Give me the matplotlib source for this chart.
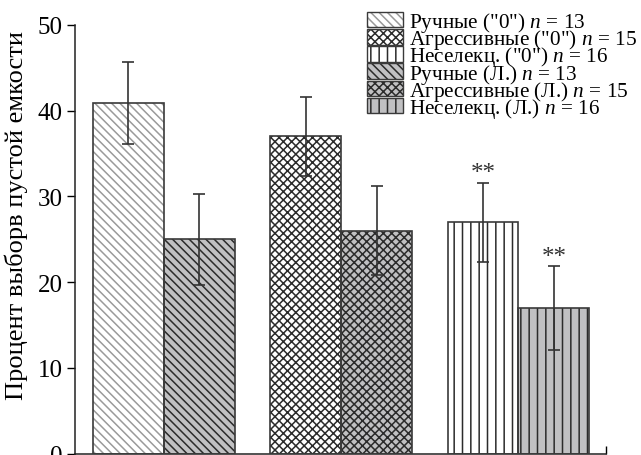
import numpy as np
import matplotlib
matplotlib.use('Agg')
import matplotlib.pyplot as plt
from matplotlib.patches import Patch
from matplotlib.legend_handler import HandlerTuple

plt.rcParams['font.family'] = ['Liberation Serif', 'DejaVu Serif']
plt.rcParams['mathtext.fontset'] = 'custom'
plt.rcParams['mathtext.it'] = 'Liberation Serif:italic'
plt.rcParams['mathtext.rm'] = 'Liberation Serif'
plt.rcParams['hatch.linewidth'] = 1.1

# данные
labels = ['Ручные ("0") $n$ = 13', 'Агрессивные ("0") $n$ = 15', 'Неселекц. ("0") $n$ = 16',
          'Ручные (Л.) $n$ = 13', 'Агрессивные (Л.) $n$ = 15', 'Неселекц. (Л.) $n$ = 16']
vals_0 = [40.9, 37.0, 27.0]
err_0 = [4.8, 4.6, 4.6]
vals_l = [25.0, 26.0, 17.0]
err_l = [5.3, 5.2, 4.9]
stars_0 = ['', '', '**']
stars_l = ['', '', '**']

hatches = ['\\\\\\\\', 'xxxx', '||']
hatch_col_0 = ['#9a9a9a', '#2b2b2b', '#2b2b2b']
gray = '#c0c0c2'
edge = '#3a3a3a'

fig = plt.figure(figsize=(6.41, 4.56), dpi=100)
ax = fig.add_axes([0.117, 0.003, 0.828, 0.940])

x = np.arange(3) * 2.5
w = 1.0
handles_0 = []
handles_l = []
for i in range(3):
    # "0" bars (white)
    ax.bar(x[i] - w / 2, vals_0[i], w, color='white', hatch=hatches[i],
           edgecolor=hatch_col_0[i], linewidth=0, zorder=2)
    ax.bar(x[i] - w / 2, vals_0[i], w, fill=False, edgecolor=edge, linewidth=1.2, zorder=3)
    ax.errorbar(x[i] - w / 2, vals_0[i], yerr=err_0[i], fmt='none', ecolor='#333333',
                elinewidth=1.2, capsize=4, capthick=1.2, zorder=4)
    # Л. bars (gray)
    ax.bar(x[i] + w / 2, vals_l[i], w, color=gray, hatch=hatches[i],
           edgecolor='#2b2b2b', linewidth=0, zorder=2)
    ax.bar(x[i] + w / 2, vals_l[i], w, fill=False, edgecolor=edge, linewidth=1.2, zorder=3)
    ax.errorbar(x[i] + w / 2, vals_l[i], yerr=err_l[i], fmt='none', ecolor='#333333',
                elinewidth=1.2, capsize=4, capthick=1.2, zorder=4)
    if stars_0[i]:
        ax.text(x[i] - w / 2, vals_0[i] + err_0[i] - 0.2, stars_0[i], ha='center',
                va='bottom', fontsize=18, color='#333333')
    if stars_l[i]:
        ax.text(x[i] + w / 2, vals_l[i] + err_l[i] - 0.2, stars_l[i], ha='center',
                va='bottom', fontsize=18, color='#333333')

    handles_0.append((Patch(facecolor='white', hatch=hatches[i], edgecolor=hatch_col_0[i], linewidth=0),
                      Patch(fill=False, edgecolor=edge, linewidth=1.0)))
    handles_l.append((Patch(facecolor=gray, hatch=hatches[i], edgecolor='#2b2b2b', linewidth=0),
                      Patch(fill=False, edgecolor=edge, linewidth=1.0)))

ax.set_xlim(-1.25, 6.23)
ax.set_ylim(0, 50)
ax.set_yticks([0, 10, 20, 30, 40, 50])
ax.tick_params(axis='y', direction='out', length=6, width=1, labelsize=18, pad=3)
ax.set_xticks([6.23])
ax.set_xticklabels([''])
ax.tick_params(axis='x', direction='in', length=6, width=1)
for s in ['top', 'right']:
    ax.spines[s].set_visible(False)
for s in ['left', 'bottom']:
    ax.spines[s].set_linewidth(1.1)
    ax.spines[s].set_color('#222222')
ax.set_ylabel('Процент выборв пустой емкости', fontsize=19)
ax.yaxis.set_label_coords(-0.088, 0.559)

leg = ax.legend(handles_0 + handles_l, labels,
                handler_map={tuple: HandlerTuple(ndivide=1, pad=0)},
                loc='upper left', bbox_to_anchor=(0.55, 1.035), frameon=False,
                fontsize=15.3, handlelength=1.7, handleheight=0.75, handletextpad=0.28,
                labelspacing=-0.32, borderaxespad=0, borderpad=0)

fig.savefig('out.png', dpi=100)
